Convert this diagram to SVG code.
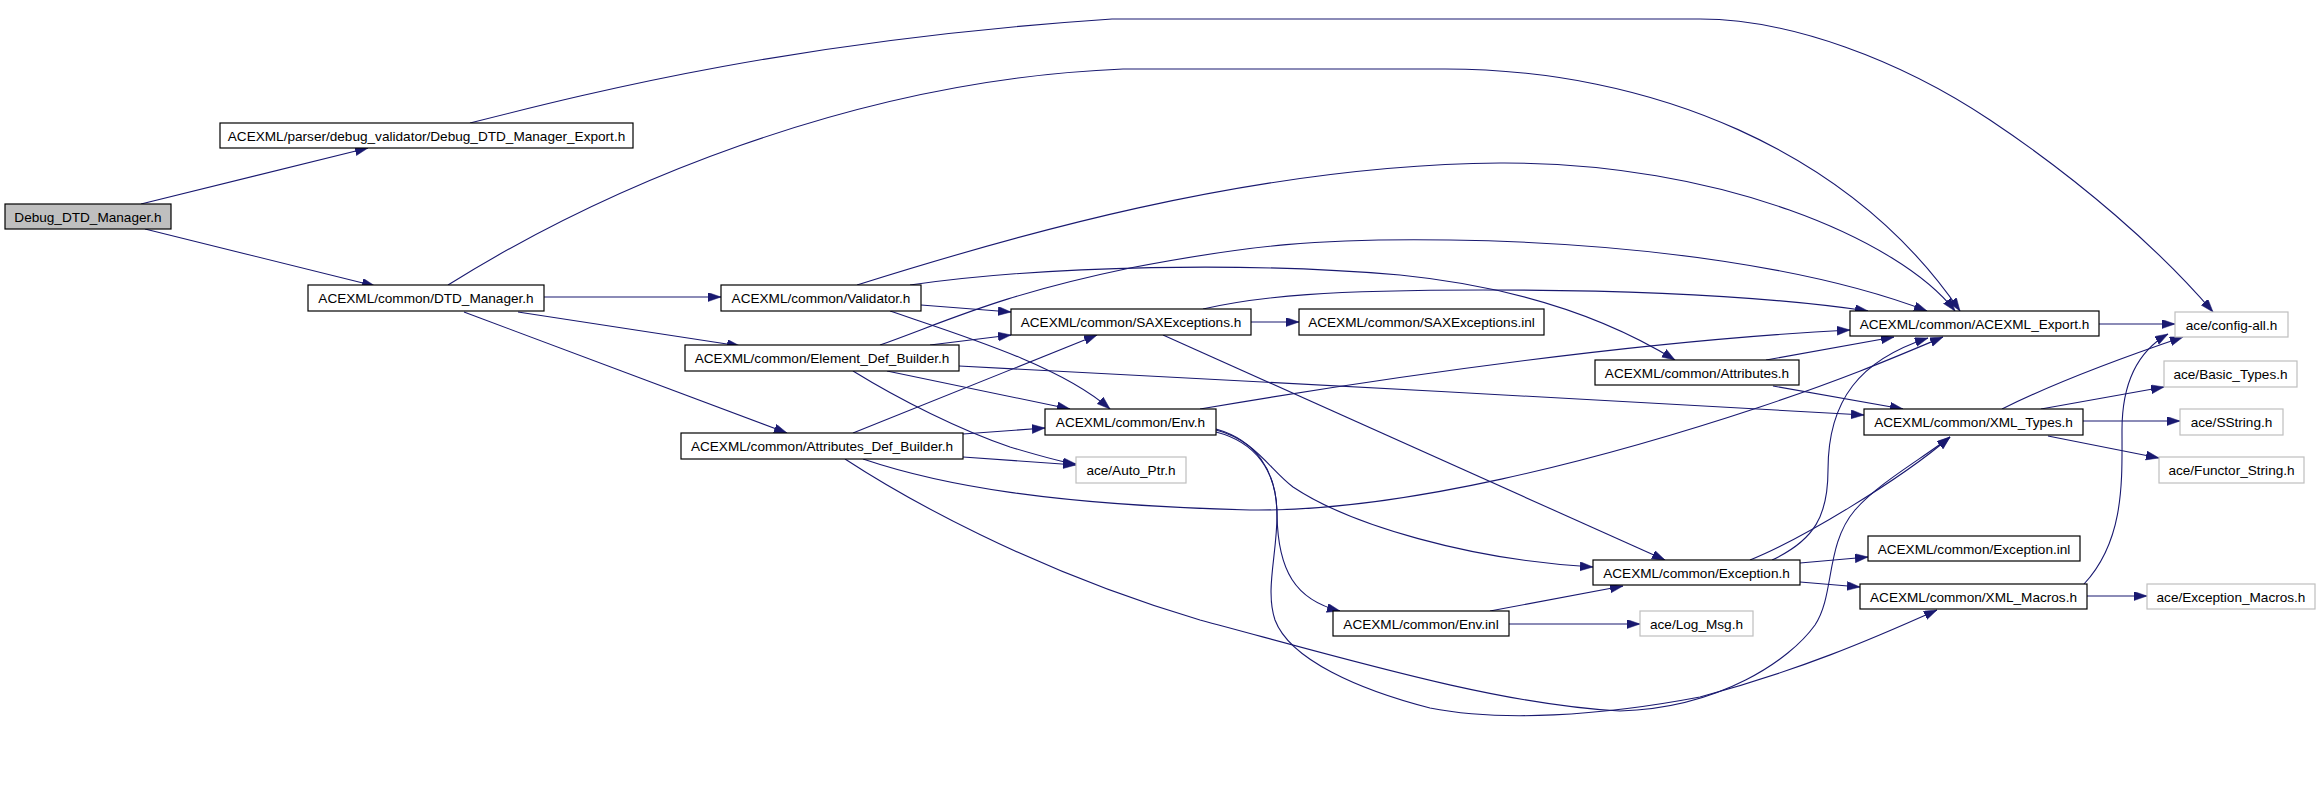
<svg xmlns="http://www.w3.org/2000/svg" width="2320" height="804" viewBox="0 0 2320 804">
<style>
  .box { fill: #ffffff; stroke: #000000; stroke-width: 1.2; }
  .root { fill: #bfbfbf; stroke: #000000; stroke-width: 1.2; }
  .ext { fill: #ffffff; stroke: #bfbfbf; stroke-width: 1.2; }
  .lbl { font-family: "Liberation Sans", Arial, sans-serif; font-size: 13.6px; fill: #000000; text-anchor: middle; }
  .edge { fill: none; stroke: #191970; stroke-width: 1.1; marker-end: url(#arr); }
</style>
<defs>
  <marker id="arr" markerUnits="userSpaceOnUse" markerWidth="14" markerHeight="10" refX="13" refY="4.5" orient="auto" viewBox="0 0 14 10">
    <path d="M0,0 L13,4.5 L0,9 z" fill="#191970" stroke="#191970" stroke-width="0.5"/>
  </marker>
</defs>
<rect x="0" y="0" width="2320" height="804" fill="#ffffff"/>
<g id="edges">
  <path class="edge" d="M141,204 L368,148"/>
  <path class="edge" d="M145,229 L375,286"/>
  <path class="edge" d="M470,123 C600,90 800,40 1112,19 L1700,19 C1790,19 1900,60 1990,120 C2080,180 2160,250 2213,312"/>
  <path class="edge" d="M448,285 C600,190 850,80 1123,69 L1445,69 C1650,69 1850,150 1960,311"/>
  <path class="edge" d="M544,297 L721,297"/>
  <path class="edge" d="M518,312 L740,346"/>
  <path class="edge" d="M464,312 L787,433"/>
  <path class="edge" d="M857,285 C1000,240 1250,165 1500,163 C1720,162 1900,240 1955,311"/>
  <path class="edge" d="M921,305 L1011,312"/>
  <path class="edge" d="M890,311 C960,335 1060,365 1110,409"/>
  <path class="edge" d="M910,285 C1050,265 1250,262 1400,275 C1520,287 1610,320 1675,360"/>
  <path class="edge" d="M1203,309 C1260,296 1330,290 1483,290 C1650,290 1780,298 1868,311"/>
  <path class="edge" d="M1251,322 L1299,322"/>
  <path class="edge" d="M1163,335 L1665,560"/>
  <path class="edge" d="M930,345 L1011,335"/>
  <path class="edge" d="M887,371 L1070,409"/>
  <path class="edge" d="M853,371 C900,400 960,430 1010,447 C1040,456 1060,462 1076,464"/>
  <path class="edge" d="M959,366 C1200,378 1600,400 1864,415"/>
  <path class="edge" d="M880,345 C950,320 1000,295 1130,268 C1250,245 1320,238 1450,240 C1650,243 1820,270 1927,311"/>
  <path class="edge" d="M863,459 C940,485 1050,505 1250,510 C1400,512 1600,460 1760,407 C1850,377 1900,355 1943,337"/>
  <path class="edge" d="M853,433 L1097,335"/>
  <path class="edge" d="M963,434 L1045,428"/>
  <path class="edge" d="M963,457 L1076,465"/>
  <path class="edge" d="M845,459 C900,495 1030,570 1200,620 C1350,660 1500,705 1620,711 C1720,708 1790,660 1815,625 C1835,595 1825,545 1855,510 C1880,482 1920,460 1950,437"/>
  <path class="edge" d="M1200,409 C1400,375 1650,340 1850,330"/>
  <path class="edge" d="M1216,430 C1255,440 1270,470 1293,487 C1350,525 1470,560 1593,567"/>
  <path class="edge" d="M1216,432 C1255,442 1277,470 1277,515 C1278,570 1295,600 1340,611"/>
  <path class="edge" d="M1216,429 C1255,440 1277,470 1277,515 C1277,555 1265,590 1275,620 C1290,660 1360,690 1430,708 C1500,722 1600,716 1700,697 C1800,670 1870,640 1937,610"/>
  <path class="edge" d="M1490,611 L1623,586"/>
  <path class="edge" d="M1509,624 L1640,624"/>
  <path class="edge" d="M1766,360 L1894,337"/>
  <path class="edge" d="M1773,386 L1903,409"/>
  <path class="edge" d="M1772,560 C1815,540 1828,515 1828,470 C1828,400 1860,360 1928,338"/>
  <path class="edge" d="M1750,560 C1800,540 1900,480 1950,437"/>
  <path class="edge" d="M1800,563 L1868,557"/>
  <path class="edge" d="M1800,582 L1860,587"/>
  <path class="edge" d="M2099,324 L2175,324"/>
  <path class="edge" d="M2002,409 C2060,380 2130,355 2183,337"/>
  <path class="edge" d="M2041,409 L2164,387"/>
  <path class="edge" d="M2083,421 L2180,421"/>
  <path class="edge" d="M2048,436 L2159,458"/>
  <path class="edge" d="M2084,584 C2125,540 2122,480 2122,430 C2122,380 2140,350 2168,334"/>
  <path class="edge" d="M2087,596 L2147,596"/>
</g>
<g id="n_debug"><rect class="root" x="5" y="204" width="166" height="25"/><text class="lbl" x="88" y="221.5">Debug_DTD_Manager.h</text></g>
<g id="n_dbgexport"><rect class="box" x="220" y="123" width="413" height="25"/><text class="lbl" x="426.5" y="140.5">ACEXML/parser/debug_validator/Debug_DTD_Manager_Export.h</text></g>
<g id="n_dtd"><rect class="box" x="308" y="285" width="236" height="26"/><text class="lbl" x="426" y="303">ACEXML/common/DTD_Manager.h</text></g>
<g id="n_validator"><rect class="box" x="721" y="285" width="200" height="26"/><text class="lbl" x="821" y="303">ACEXML/common/Validator.h</text></g>
<g id="n_sax"><rect class="box" x="1011" y="309" width="240" height="26"/><text class="lbl" x="1131" y="327">ACEXML/common/SAXExceptions.h</text></g>
<g id="n_saxinl"><rect class="box" x="1299" y="309" width="245" height="26"/><text class="lbl" x="1421.5" y="327">ACEXML/common/SAXExceptions.inl</text></g>
<g id="n_elemdef"><rect class="box" x="685" y="345" width="274" height="26"/><text class="lbl" x="822" y="363">ACEXML/common/Element_Def_Builder.h</text></g>
<g id="n_env"><rect class="box" x="1045" y="409" width="171" height="26"/><text class="lbl" x="1130.5" y="427">ACEXML/common/Env.h</text></g>
<g id="n_attrdef"><rect class="box" x="681" y="433" width="282" height="26"/><text class="lbl" x="822" y="451">ACEXML/common/Attributes_Def_Builder.h</text></g>
<g id="n_autoptr"><rect class="ext" x="1076" y="457" width="110" height="26"/><text class="lbl" x="1131" y="475">ace/Auto_Ptr.h</text></g>
<g id="n_attributes"><rect class="box" x="1595" y="360" width="204" height="25"/><text class="lbl" x="1697" y="377.5">ACEXML/common/Attributes.h</text></g>
<g id="n_export"><rect class="box" x="1850" y="311" width="249" height="25"/><text class="lbl" x="1974.5" y="328.5">ACEXML/common/ACEXML_Export.h</text></g>
<g id="n_config"><rect class="ext" x="2175" y="312" width="113" height="25"/><text class="lbl" x="2231.5" y="329.5">ace/config-all.h</text></g>
<g id="n_basic"><rect class="ext" x="2164" y="361" width="133" height="26"/><text class="lbl" x="2230.5" y="379">ace/Basic_Types.h</text></g>
<g id="n_xmltypes"><rect class="box" x="1864" y="409" width="219" height="26"/><text class="lbl" x="1973.5" y="427">ACEXML/common/XML_Types.h</text></g>
<g id="n_sstring"><rect class="ext" x="2180" y="409" width="103" height="26"/><text class="lbl" x="2231.5" y="427">ace/SString.h</text></g>
<g id="n_functor"><rect class="ext" x="2159" y="457" width="145" height="26"/><text class="lbl" x="2231.5" y="475">ace/Functor_String.h</text></g>
<g id="n_excinl"><rect class="box" x="1868" y="536" width="212" height="25"/><text class="lbl" x="1974" y="553.5">ACEXML/common/Exception.inl</text></g>
<g id="n_exc"><rect class="box" x="1593" y="560" width="207" height="25"/><text class="lbl" x="1696.5" y="577.5">ACEXML/common/Exception.h</text></g>
<g id="n_macros"><rect class="box" x="1860" y="584" width="227" height="25"/><text class="lbl" x="1973.5" y="601.5">ACEXML/common/XML_Macros.h</text></g>
<g id="n_excmacros"><rect class="ext" x="2147" y="584" width="168" height="25"/><text class="lbl" x="2231" y="601.5">ace/Exception_Macros.h</text></g>
<g id="n_envinl"><rect class="box" x="1333" y="611" width="176" height="25"/><text class="lbl" x="1421" y="628.5">ACEXML/common/Env.inl</text></g>
<g id="n_logmsg"><rect class="ext" x="1640" y="611" width="113" height="25"/><text class="lbl" x="1696.5" y="628.5">ace/Log_Msg.h</text></g>
</svg>
